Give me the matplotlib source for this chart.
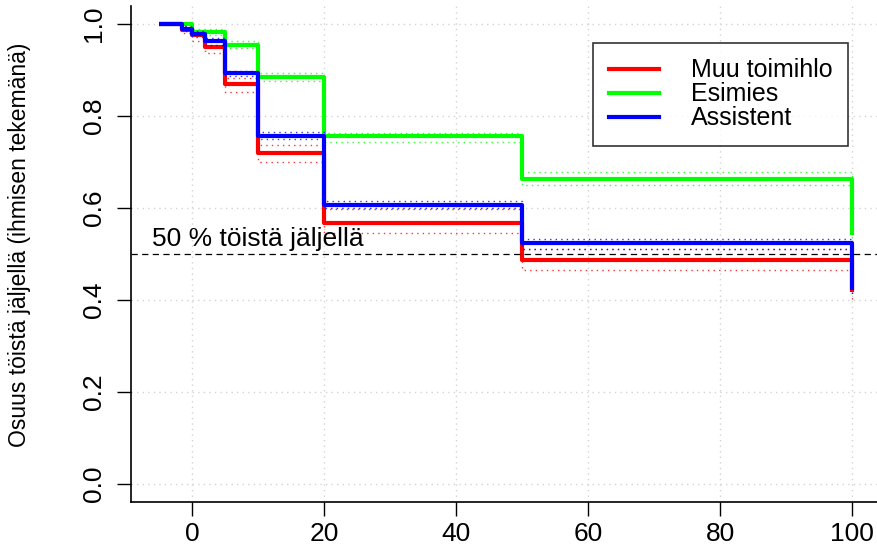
import numpy as np
import matplotlib
matplotlib.use("Agg")
from matplotlib import pyplot as plt
from matplotlib.lines import Line2D

plt.rcParams['font.family'] = ['Liberation Sans', 'DejaVu Sans']

# step times (time at which each value starts)
t = [-5, -1.5, 0, 2, 5, 10, 20, 50, 100]

# Muu toimihlo
red_s = [1.0, 0.987, 0.975, 0.951, 0.869, 0.719, 0.567, 0.487, 0.418]
red_hi = [1.0, 0.995, 0.986, 0.965, 0.883, 0.738, 0.597, 0.510, 0.445]
red_lo = [1.0, 0.980, 0.964, 0.938, 0.853, 0.699, 0.545, 0.465, 0.395]

# Esimies
green_s = [1.0, 1.0, 0.982, 0.982, 0.955, 0.885, 0.757, 0.664, 0.541]
green_hi = [1.0, 1.0, 0.990, 0.990, 0.962, 0.894, 0.764, 0.678, 0.555]
green_lo = [1.0, 1.0, 0.975, 0.975, 0.948, 0.875, 0.743, 0.650, 0.528]

# Assistent
blue_s = [1.0, 0.990, 0.978, 0.962, 0.893, 0.757, 0.607, 0.524, 0.422]
blue_hi = [1.0, 0.995, 0.984, 0.969, 0.898, 0.765, 0.616, 0.533, 0.432]
blue_lo = [1.0, 0.985, 0.972, 0.955, 0.886, 0.750, 0.599, 0.510, 0.412]

labels = ['Muu toimihlo', 'Esimies', 'Assistent']
colors = ['#ff0000', '#00ff00', '#0000ff']
curves = [(red_s, red_hi, red_lo), (green_s, green_hi, green_lo), (blue_s, blue_hi, blue_lo)]

xticks = [0, 20, 40, 60, 80, 100]
yticks = [0.0, 0.2, 0.4, 0.6, 0.8, 1.0]

fig = plt.figure(figsize=(8.78, 5.49), dpi=100)
ax = fig.add_axes([0.1496, 0.0849, 0.8524, 0.9049])
ax.set_xlim(-9.2, 104.2)
ax.set_ylim(-0.04, 1.04)

# grid like R's grid()
for x in xticks:
    ax.axvline(x, color='#d3d3d3', lw=1, ls=(0, (1, 3)), zorder=0)
for y in yticks:
    ax.axhline(y, color='#d3d3d3', lw=1, ls=(0, (1, 3)), zorder=0)

for (s, hi, lo), c in zip(curves, colors):
    ax.plot(t, hi, drawstyle='steps-post', color=c, lw=1, ls=(0, (1, 3)), alpha=0.8)
    ax.plot(t, lo, drawstyle='steps-post', color=c, lw=1, ls=(0, (1, 3)), alpha=0.8)
    ax.plot(t, s, drawstyle='steps-post', color=c, lw=3, solid_capstyle='butt')

ax.axhline(0.5, color='black', lw=0.9, ls=(0, (5, 3.5)))
ax.text(-6, 0.506, '50 % töistä jäljellä', fontsize=19, va='bottom', ha='left')

ax.set_xticks(xticks)
ax.set_yticks(yticks)
ax.set_xticklabels([str(x) for x in xticks], fontsize=19)
ax.set_yticklabels(['%.1f' % y for y in yticks], fontsize=19, rotation=90, va='center')
ax.tick_params(axis='both', direction='out', length=10, width=1, color='black')
ax.tick_params(axis='y', pad=8)
ax.tick_params(axis='x', pad=4)
ax.spines['top'].set_visible(False)
ax.spines['right'].set_visible(False)
ax.spines['left'].set_linewidth(1.2)
ax.spines['bottom'].set_linewidth(1.2)

ax.set_ylabel('Osuus töistä jäljellä (ihmisen tekemänä)', fontsize=16.5, va='center')
ax.yaxis.set_label_coords(-0.149, 0.518)

handles = [Line2D([], [], color=c, lw=3) for c in colors]
leg = ax.legend(handles, labels, loc='upper right', bbox_to_anchor=(0.958, 0.925),
                fontsize=18, frameon=True, fancybox=False, edgecolor='black',
                handlelength=2.0, handletextpad=1.3, labelspacing=0.0,
                borderpad=0.62, borderaxespad=0)
leg.get_frame().set_linewidth(1.2)

fig.savefig('out.png', dpi=100)
